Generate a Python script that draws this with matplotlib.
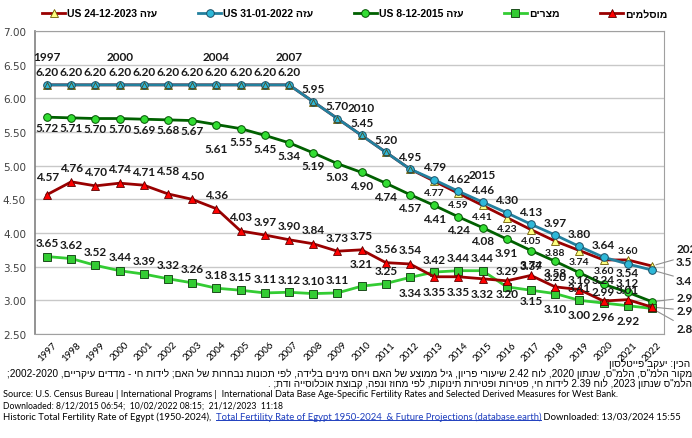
import re
import matplotlib
matplotlib.use("Agg")
import matplotlib.pyplot as plt

# data
years = [1997, 1998, 1999, 2000, 2001, 2002, 2003, 2004, 2005, 2006, 2007, 2008, 2009,
         2010, 2011, 2012, 2013, 2014, 2015, 2016, 2017, 2018, 2019, 2020, 2021, 2022]
gaza_2023 = [6.20, 6.20, 6.20, 6.20, 6.20, 6.20, 6.20, 6.20, 6.20, 6.20, 6.20, 5.95, 5.70,
             5.45, 5.20, 4.95, 4.77, 4.59, 4.41, 4.23, 4.05, 3.88, 3.74, 3.60, 3.60, 3.51]
gaza_2022 = [6.20, 6.20, 6.20, 6.20, 6.20, 6.20, 6.20, 6.20, 6.20, 6.20, 6.20, 5.95, 5.70,
             5.45, 5.20, 4.95, 4.79, 4.62, 4.46, 4.30, 4.13, 3.97, 3.80, 3.64, 3.54, 3.45]
gaza_2015 = [5.72, 5.71, 5.70, 5.70, 5.69, 5.68, 5.67, 5.61, 5.55, 5.45, 5.34, 5.19, 5.03,
             4.90, 4.74, 4.57, 4.41, 4.24, 4.08, 3.91, 3.74, 3.58, 3.41, 3.24, 3.12, 2.98]
egypt = [3.65, 3.62, 3.52, 3.44, 3.39, 3.32, 3.26, 3.18, 3.15, 3.11, 3.12, 3.10, 3.11,
         3.21, 3.25, 3.34, 3.42, 3.44, 3.44, 3.20, 3.15, 3.10, 3.00, 2.96, 2.92, 2.88]
muslims = [4.57, 4.76, 4.70, 4.74, 4.71, 4.58, 4.50, 4.36, 4.03, 3.97, 3.90, 3.84, 3.73,
           3.75, 3.56, 3.54, 3.35, 3.35, 3.32, 3.29, 3.37, 3.20, 3.16, 2.99, 3.01, 2.90]
year_marks = [1997, 2000, 2004, 2007, 2010, 2015]
yticks = [2.50, 3.00, 3.50, 4.00, 4.50, 5.00, 5.50, 6.00, 6.50, 7.00]


def rtl(s):
    # crude bidi: reverse the text, then put latin/digit runs back in order
    s = s[::-1]
    return re.sub(r"[0-9A-Za-z](?:[0-9A-Za-z.\-/: ]*[0-9A-Za-z])?",
                  lambda m: m.group(0)[::-1], s)


HEB = ["Liberation Sans", "DejaVu Sans"]
LBL = "Lato"

fig = plt.figure(figsize=(6.92, 4.39), dpi=100)
ax = fig.add_axes([35 / 692, 1 - 335 / 439, 629 / 692, 303 / 439])
xs = list(range(len(years)))

l23, = ax.plot(xs, gaza_2023, color="#990000", lw=2, marker="^", ms=5.5,
               mfc="#FFFF80", mec="#6b5a00", mew=0.6, zorder=3)
l22, = ax.plot(xs, gaza_2022, color="#23809E", lw=2, marker="o", ms=5.5,
               mfc="#2EB8D8", mec="#1b4f66", mew=0.7, zorder=4)
# triangles of the 2023 series show through the circles where both are equal
ax.plot(xs[:16], gaza_2023[:16], ls="none", marker="^", ms=4, mfc="none",
        mec="#4a4a20", mew=0.6, zorder=5)
l15, = ax.plot(xs, gaza_2015, color="#006000", lw=2, marker="o", ms=5.5,
               mfc="#33DD33", mec="#005000", mew=0.7, zorder=4)
leg_e, = ax.plot(xs, egypt, color="#33CC33", lw=2, marker="s", ms=5.5,
                 mfc="#33CC33", mec="#1c4d1c", mew=0.7, zorder=4)
leg_m, = ax.plot(xs, muslims, color="#990000", lw=2, marker="^", ms=5.5,
                 mfc="#FF0000", mec="#5a0000", mew=0.6, zorder=4)

ax.set_xlim(-0.5, len(years) - 0.5)
ax.set_ylim(2.5, 7.0)
ax.set_yticks(yticks)
ax.set_yticklabels([f"{v:.2f}" for v in yticks], fontsize=7.5, color="#404040",
                   family="DejaVu Sans")
ax.set_xticks(xs)
ax.set_xticklabels(years, rotation=45, ha="center", fontsize=7, family=LBL)
ax.tick_params(length=0, pad=4)
ax.tick_params(axis="y", pad=6.5)
ax.grid(axis="y", color="#C8C8C8", lw=1)
ax.set_axisbelow(True)
for side in ["top", "right", "bottom"]:
    ax.spines[side].set_color("#A0A0A0")
ax.spines["left"].set_color("#808080")
ax.spines["left"].set_linewidth(1.2)

# label offsets in pixels (positive = above the point), None = no label
off22 = [13] * 24 + [-9, None]
off23 = [None] * 16 + [-11] * 8 + [9, None]
off15 = [-10] * 7 + [-24] + [-13] * 12 + [-14, -11, -15, 5, 10, None]
offeg = [14] * 10 + [13, 13, 13, 23, 13, -15, 13, 13, 13, -7, -10, -15, -14, -13, -15, None]
offmu = [18, 14, 14, 15, 14, 23, 24, 14] + [14] * 8 + [-15, -15, -15] + [10] * 6 + [None]


def put_labels(vals, offs, fs=8.5):
    for i, (v, dy) in enumerate(zip(vals, offs)):
        if dy is None:
            continue
        ax.annotate(f"{v:.2f}", (i, v), xytext=(0, dy), textcoords="offset pixels",
                    ha="center", va="center", fontsize=fs, fontweight="bold",
                    family=LBL, color="#1a1a1a", zorder=6)


put_labels(gaza_2022, off22)
put_labels(gaza_2023, off23, fs=7.5)
put_labels(gaza_2015, off15)
put_labels(egypt, offeg)
put_labels(muslims, offmu)

for yr in year_marks:
    i = years.index(yr)
    ax.annotate(str(yr), (i, gaza_2022[i]), xytext=(0, 28), textcoords="offset pixels",
                ha="center", va="center", fontsize=8.5, fontweight="bold", family=LBL,
                color="#1a1a1a")

# end labels outside the plot with leader lines (cut by the picture edge as in the original)
last = len(years) - 1
ends = [(gaza_2023, "2022\n{:.2f}", 3.67), (gaza_2022, "{:.2f}", 3.30),
        (gaza_2015, "{:.2f}", 3.04), (muslims, "{:.2f}", 2.85), (egypt, "{:.2f}", 2.58)]
for vals, fmt, ty in ends:
    ax.annotate(fmt.format(vals[last]), (last, vals[last]), xytext=(26.0, ty),
                textcoords="data", ha="left", va="center", fontsize=8.5,
                fontweight="bold", family=LBL, color="#1a1a1a", annotation_clip=False,
                arrowprops=dict(arrowstyle="-", color="#909090", lw=0.8,
                                shrinkA=0, shrinkB=3))

fig.legend([l23, l22, l15, leg_e, leg_m],
           ["US 24-12-2023 " + rtl("עזה"), "US 31-01-2022 " + rtl("עזה"),
            "US 8-12-2015 " + rtl("עזה"), rtl("מצרים"), rtl("מוסלמים")],
           loc="upper center", bbox_to_anchor=(0.513, 1.0), ncol=5, frameon=False,
           prop={"family": HEB, "weight": "bold", "size": 7.5},
           handlelength=2.2, columnspacing=3.9, handletextpad=0.2)

# notes under the chart
W, H = 692, 439
fig.text(690 / W, 1 - 364 / H, rtl("הכין: יעקב פייטלסון"), ha="right", va="center",
         fontsize=7.3, family=HEB)
fig.text(692 / W, 1 - 374 / H,
         rtl('מקור הלמ"ס, הלמ"ס, שנתון 2020, לוח 2.42 שיעורי פריון, גיל ממוצע של האם '
             'ויחס מינים בלידה, לפי תכונות נבחרות של האם; לידות חי - מדדים עיקריים, 2002-2020;'),
         ha="right", va="center", fontsize=7.2, family=HEB)
fig.text(692 / W, 1 - 384 / H,
         rtl('הלמ"ס שנתון 2023, לוח 2.39 לידות חי, פטירות ופטירות תינוקות, לפי מחוז ונפה, '
             'קבוצת אוכלוסייה ודת; .'),
         ha="right", va="center", fontsize=7.1, family=HEB)
fig.text(3 / W, 1 - 395 / H,
         "Source: U.S. Census Bureau | International Programs |  International Data Base "
         "Age-Specific Fertility Rates and Selected Derived Measures for West Bank.",
         ha="left", va="center", fontsize=6.6, family=LBL)
fig.text(3 / W, 1 - 406 / H,
         "Downloaded: 8/12/2015 06:54;  10/02/2022 08:15;  21/12/2023  11:18",
         ha="left", va="center", fontsize=6.2, family=LBL)

# last line: plain text, then a blue underlined link, then plain text again
fig.canvas.draw()
r = fig.canvas.get_renderer()
t1 = fig.text(3 / W, 1 - 417 / H, "Historic Total Fertility Rate of Egypt (1950-2024),  ",
              ha="left", va="center", fontsize=6.8, family=LBL)
x1 = t1.get_window_extent(r).x1
t2 = fig.text(x1 / W, 1 - 417 / H,
              "Total Fertility Rate of Egypt 1950-2024  & Future Projections (database.earth)",
              ha="left", va="center", fontsize=6.8, family=LBL, color="#1F3FBF")
bb = t2.get_window_extent(r)
fig.add_artist(plt.Line2D([bb.x0 / W, bb.x1 / W], [(bb.y0 + 0.5) / H] * 2,
                          color="#1F3FBF", lw=0.7))
fig.text(bb.x1 / W, 1 - 417 / H, " Downloaded: 13/03/2024 15:55",
         ha="left", va="center", fontsize=6.8, family=LBL)

fig.savefig("out.png", dpi=100)
